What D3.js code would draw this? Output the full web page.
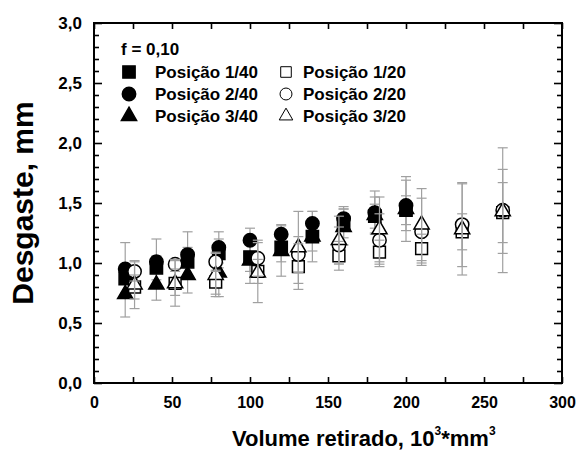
<!DOCTYPE html>
<html>
<head>
<meta charset="utf-8">
<script src="https://d3js.org/d3.v7.min.js"></script>
<style>
body{margin:0;background:#fff;}
text{font-family:"Liberation Sans",Arial,sans-serif;font-weight:bold;}
</style>
</head>
<body>
<svg id="chart" width="576" height="450"></svg>
<script>
// volumes (10^3 mm^3)
var xFilled=[20,40,60,80,100,120,140,160,180,200];
var xOpen=[26,52,78,105,131,157,183,210,236,262];
// wear (mm) and error
var p140=[0.87,0.96,1.01,1.08,1.05,1.13,1.22,1.33,1.39,1.44];
var p140e=[0.12,0.10,0.12,0.12,0.12,0.12,0.12,0.12,0.10,0.12];
var p240=[0.95,1.01,1.07,1.13,1.19,1.24,1.33,1.37,1.42,1.48];
var p240e=[0.22,0.19,0.19,0.13,0.10,0.08,0.10,0.10,0.18,0.21];
var p340=[0.74,0.82,0.90,0.92,1.02,1.10,1.22,1.30,1.40,1.45];
var p340e=[0.19,0.13,0.15,0.20,0.19,0.21,0.21,0.15,0.15,0.27];
var p120=[0.80,0.83,0.84,0.93,0.97,1.06,1.09,1.12,1.26,1.42];
var p120e=[0.10,0.10,0.10,0.10,0.19,0.12,0.10,0.12,0.15,0.25];
var p220=[0.93,0.99,1.01,1.04,1.07,1.15,1.19,1.26,1.32,1.44];
var p220e=[0.08,0.04,0.08,0.15,0.15,0.15,0.22,0.28,0.35,0.52];
var p320=[0.82,0.83,0.90,0.92,1.13,1.19,1.28,1.32,1.28,1.43];
var p320e=[0.20,0.19,0.18,0.25,0.30,0.20,0.27,0.30,0.38,0.35];
var yTicks=[0,0.5,1,1.5,2,2.5,3];

var series=[
  {name:'Posição 1/40',x:xFilled,y:p140,e:p140e,shape:d3.symbolSquare,size:150,fill:true},
  {name:'Posição 2/40',x:xFilled,y:p240,e:p240e,shape:d3.symbolCircle,size:140,fill:true},
  {name:'Posição 3/40',x:xFilled,y:p340,e:p340e,shape:d3.symbolTriangle,size:100,fill:true},
  {name:'Posição 1/20',x:xOpen,y:p120,e:p120e,shape:d3.symbolSquare,size:140,fill:false},
  {name:'Posição 2/20',x:xOpen,y:p220,e:p220e,shape:d3.symbolCircle,size:140,fill:false},
  {name:'Posição 3/20',x:xOpen,y:p320,e:p320e,shape:d3.symbolTriangle,size:100,fill:false}
];

var L=94,R=562,T=23,B=383;
var x=d3.scaleLinear().domain([0,300]).range([L,R]);
var y=d3.scaleLinear().domain([0,3]).range([B,T]);
var svg=d3.select('#chart');
var comma=function(d){return d3.format('.1f')(d).replace('.',',');};
var minorY=d3.range(0,31).map(function(i){return i/10;})
             .filter(function(v){return Math.round(v*10)%5!=0;});

// axes
function styleAxis(fs){return function(g){g.select('.domain').remove();
  g.selectAll('.tick line').attr('stroke','#000').attr('stroke-width',1.6);
  g.selectAll('.tick text').attr('font-size',fs).attr('fill','#000');};}
svg.append('g').attr('transform','translate(0,'+B+')')
   .call(d3.axisBottom(x).tickValues(d3.range(0,301,25)).tickSize(-6)
   .tickFormat(function(d){return d%50==0?d:'';}).tickPadding(14)).call(styleAxis(16));
svg.append('g').attr('transform','translate(0,'+T+')')
   .call(d3.axisTop(x).tickValues(d3.range(0,301,25)).tickSize(-6).tickFormat('')).call(styleAxis(16));
svg.append('g').attr('transform','translate('+L+',0)')
   .call(d3.axisLeft(y).tickValues(minorY).tickSize(-5).tickFormat('')).call(styleAxis(17));
svg.append('g').attr('transform','translate('+L+',0)')
   .call(d3.axisLeft(y).tickValues(yTicks).tickSize(-8).tickFormat(comma).tickPadding(12)).call(styleAxis(17));
svg.append('g').attr('transform','translate('+R+',0)')
   .call(d3.axisRight(y).tickValues(minorY).tickSize(-5).tickFormat('')).call(styleAxis(17));
svg.append('g').attr('transform','translate('+R+',0)')
   .call(d3.axisRight(y).tickValues(yTicks).tickSize(-8).tickFormat('')).call(styleAxis(17));
svg.append('rect').attr('x',L).attr('y',T).attr('width',R-L).attr('height',B-T)
   .attr('fill','none').attr('stroke','#000').attr('stroke-width',2);

// data
function drawBars(s){
  var g=svg.append('g').attr('stroke','#a0a0a0').attr('stroke-width',1.2);
  s.x.forEach(function(xv,i){
    var cx=x(xv),y0=y(s.y[i]-s.e[i]),y1=y(s.y[i]+s.e[i]);
    g.append('line').attr('x1',cx).attr('x2',cx).attr('y1',y0).attr('y2',y1);
    g.append('line').attr('x1',cx-5).attr('x2',cx+5).attr('y1',y0).attr('y2',y0);
    g.append('line').attr('x1',cx-5).attr('x2',cx+5).attr('y1',y1).attr('y2',y1);
  });
}
function drawMarks(s){
  var sym=d3.symbol().type(s.shape).size(s.size);
  svg.append('g').selectAll('path').data(s.x).join('path')
     .attr('transform',function(d,i){return 'translate('+x(d)+','+y(s.y[i])+')';})
     .attr('d',sym).attr('fill',s.fill?'#000':'#fff')
     .attr('stroke','#000').attr('stroke-width',1.5);
}
series.slice(0,3).forEach(drawBars);
series.slice(0,3).forEach(drawMarks);
series.slice(3).forEach(drawMarks);
series.slice(3).forEach(drawBars);

// legend
svg.append('text').attr('x',121).attr('y',55).attr('font-size',17).text('f = 0,10');
series.forEach(function(s,i){
  var col=Math.floor(i/3),row=i%3;
  var mx=col?286:129,my=72+row*22;
  svg.append('path').attr('transform','translate('+mx+','+my+')')
     .attr('d',d3.symbol().type(s.shape).size(s.fill?s.size:s.size*0.8)())
     .attr('fill',s.fill?'#000':'#fff').attr('stroke','#000').attr('stroke-width',s.fill?1.5:1);
  svg.append('text').attr('x',col?303:155).attr('y',my+6).attr('font-size',17).text(s.name);
});

// titles
svg.append('text').attr('transform','translate(33,203) rotate(-90)')
   .attr('text-anchor','middle').attr('font-size',30).text('Desgaste, mm');
var xt=svg.append('text').attr('x',232).attr('y',446).attr('font-size',22);
xt.append('tspan').text('Volume retirado, 10');
xt.append('tspan').attr('font-size',12).attr('dy',-11).text('3');
xt.append('tspan').attr('dy',11).text('*mm');
xt.append('tspan').attr('font-size',12).attr('dy',-11).text('3');
</script>
</body>
</html>
